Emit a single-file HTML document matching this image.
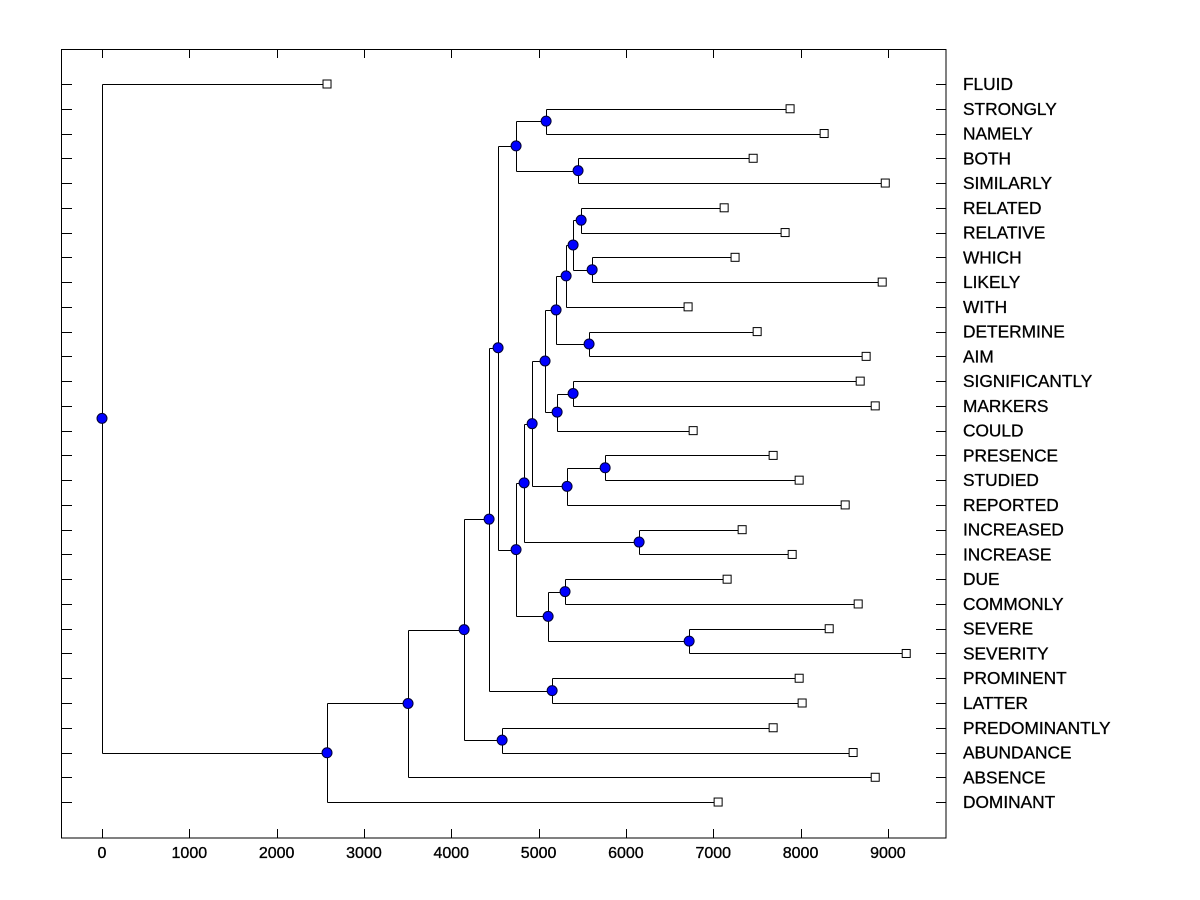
<!DOCTYPE html>
<html><head><meta charset="utf-8"><style>
html,body{margin:0;padding:0;background:#fff;}
svg{display:block;font-family:"Liberation Sans",Arial,sans-serif;}
</style></head><body>
<svg id="chart" width="1200" height="900" viewBox="0 0 1200 900">
<rect x="61.5" y="49.5" width="884.5" height="788.5" fill="none" stroke="#000" stroke-width="1"/>
<g id="axes"></g>
<g id="tree"></g>
<g id="marks"></g>
<g id="labels"></g>
</svg>
<script>
const leafNames = ["FLUID","STRONGLY","NAMELY","BOTH","SIMILARLY","RELATED","RELATIVE","WHICH","LIKELY","WITH","DETERMINE","AIM","SIGNIFICANTLY","MARKERS","COULD","PRESENCE","STUDIED","REPORTED","INCREASED","INCREASE","DUE","COMMONLY","SEVERE","SEVERITY","PROMINENT","LATTER","PREDOMINANTLY","ABUNDANCE","ABSENCE","DOMINANT"];
const leafHeights = [2577,7880,8270,7457,8970,7125,7823,7250,8935,6712,7503,8751,8683,8855,6770,7686,7984,8511,7331,7904,7159,8660,8328,9210,7984,8018,7686,8602,8855,7056];
const mergeLeft  = [1,3,30,5,7,33,35,10,36,12,39,38,15,42,41,18,44,20,22,47,46,32,24,51,26,53,55,56,0];
const mergeRight = [2,4,31,6,8,34,9,11,37,13,14,40,16,17,43,19,45,21,23,48,49,50,25,52,27,54,28,29,57];
const mergeHeights = [5086,5452,4742,5487,5613,5395,5315,5578,5200,5395,5212,5074,5762,5326,4926,6151,4834,5303,6724,5109,4742,4536,5155,4433,4582,4147,3505,2577,0];
const xTicks = [0,1000,2000,3000,4000,5000,6000,7000,8000,9000];

const NS="http://www.w3.org/2000/svg";
const X0=102, XS=0.08732;
const xs=v=>X0+v*XS;
const ys=i=>84+i*24.76;
function mk(tag,attrs,parent){const e=document.createElementNS(NS,tag);for(const k in attrs)e.setAttribute(k,attrs[k]);parent.appendChild(e);return e;}
const axes=document.getElementById('axes'),tree=document.getElementById('tree'),marks=document.getElementById('marks'),labels=document.getElementById('labels');

xTicks.forEach(t=>{
  const x=Math.round(xs(t))+0.5;
  let l=mk('line',{x1:x,x2:x,y1:50,y2:58,stroke:'#000'},axes);
  
  
  l=mk('line',{x1:x,x2:x,y1:829,y2:838,stroke:'#000'},axes);
  
  
  const tx=mk('text',{x:xs(t),y:858,'text-anchor':'middle','font-size':'16',stroke:'#000','stroke-width':'0.35'},axes);
  tx.textContent=t;
  
  
});
leafNames.forEach((n,i)=>{
  const y=Math.round(ys(i))+0.5;
  let l=mk('line',{x1:62,x2:72,y1:y,y2:y,stroke:'#000'},axes);
  
  
  l=mk('line',{x1:936,x2:946,y1:y,y2:y,stroke:'#000'},axes);
  
  
  const t=mk('text',{x:963,y:ys(i)+6,'font-size':'17.3',stroke:'#000','stroke-width':'0.3'},labels);
  t.textContent=n;
  
  
});

const N=leafNames.length;
const nodeY=[],nodeH=[];
leafNames.forEach((n,i)=>{nodeY[i]=ys(i);nodeH[i]=leafHeights[i];});
mergeHeights.forEach((h,k)=>{
  const id=N+k,a=mergeLeft[k],b=mergeRight[k];
  nodeY[id]=(nodeY[a]+nodeY[b])/2;nodeH[id]=h;
});
const circles=[];
mergeHeights.forEach((h,k)=>{
  const id=N+k,a=mergeLeft[k],b=mergeRight[k];
  const x=Math.round(xs(h))+0.5;
  const v=mk('line',{x1:x,x2:x,y1:Math.round(nodeY[a])+0.5,y2:Math.round(nodeY[b])+0.5,stroke:'#000'},tree);
  
  
  [a,b].forEach(c=>{
    const y=Math.round(nodeY[c])+0.5;
    const hl=mk('line',{x1:x,x2:xs(nodeH[c]),y1:y,y2:y,stroke:'#000'},tree);
    
    
  });
  circles.push([xs(h),nodeY[id]]);
});
leafNames.forEach((n,i)=>{
  const r=mk('rect',{x:xs(leafHeights[i])-4,y:ys(i)-4,width:8,height:8,fill:'#fff',stroke:'#000'},marks);
  
  
});
circles.forEach(([x,y])=>{
  const c=mk('circle',{cx:x,cy:y,r:5,fill:'#0000ff',stroke:'#000033','stroke-width':1},marks);
  
  
});
</script>
</body></html>
